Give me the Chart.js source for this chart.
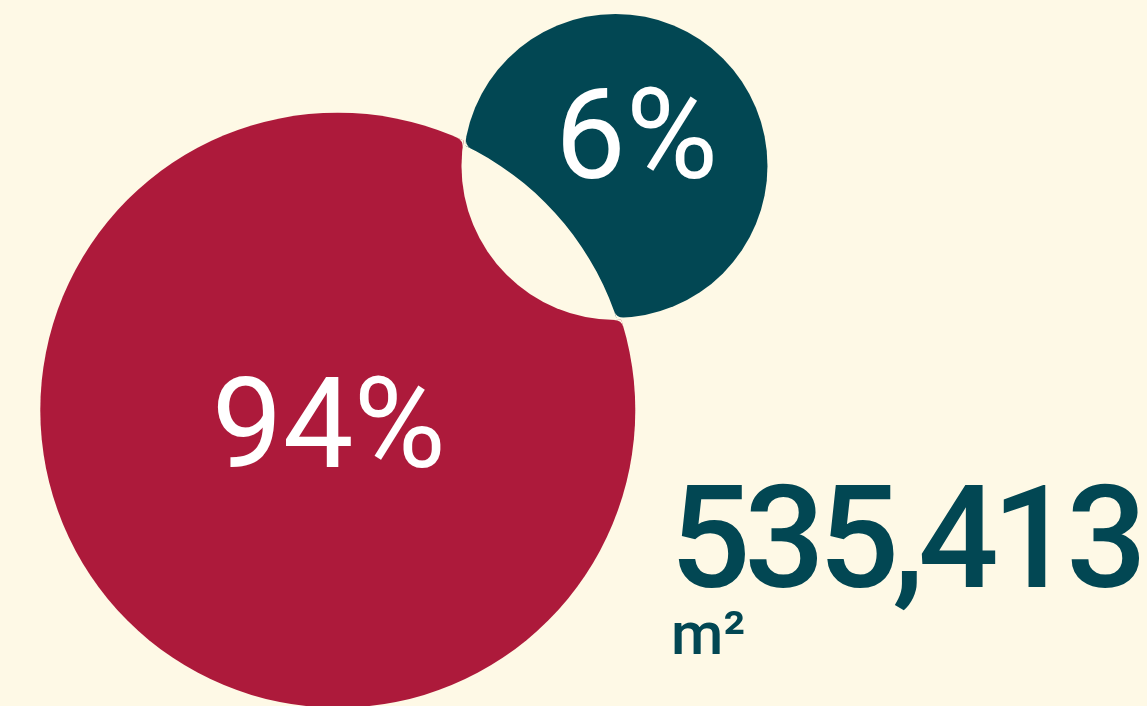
<!doctype html>
<html>

<head>
	<title>Share of floor area</title>
	<script src="https://cdn.jsdelivr.net/npm/chart.js@4/dist/chart.umd.min.js"></script>
	<style>
		html, body {
			margin: 0;
			padding: 0;
			background: #fef9e6;
			overflow: hidden;
		}
		#holder {
			position: relative;
			width: 1147px;
			height: 706px;
		}
		.stat {
			position: absolute;
			color: #024753;
			font-family: Roboto, 'Liberation Sans', sans-serif;
			font-weight: 500;
			line-height: 1;
			white-space: nowrap;
		}
		#total {
			left: 670px;
			top: 468px;
			font-size: 142px;
			letter-spacing: -6.5px;
		}
		#unit {
			left: 671px;
			top: 604px;
			font-size: 60px;
		}
	</style>
</head>

<body>
	<div id="holder">
		<canvas id="chart"></canvas>
		<div class="stat" id="total"></div>
		<div class="stat" id="unit"></div>
	</div>
	<script>
		// values
		var shareLabels = ['94%', '6%'];
		var shareValues = [94, 6];
		var bubbleX = [29.45, 53.66];
		var bubbleY = [41.9, 76.5];
		var bubbleR = [297.5, 152];
		var totalArea = 535413;
		var areaUnit = 'm²';

		var cream = '#fef9e6';
		var colors = ['#ad1a3b', '#024753'];

		document.getElementById('total').textContent = totalArea.toLocaleString('en-US');
		document.getElementById('unit').textContent = areaUnit;

		// intersections of two circles, always in the same side order
		function circleHits(a, ar, b, br) {
			var dx = b.x - a.x, dy = b.y - a.y;
			var d = Math.hypot(dx, dy);
			var k = (ar * ar - br * br + d * d) / (2 * d);
			var h = Math.sqrt(Math.max(ar * ar - k * k, 0));
			var mx = a.x + k * dx / d, my = a.y + k * dy / d;
			return [
				{x: mx - h * dy / d, y: my + h * dx / d},
				{x: mx + h * dy / d, y: my - h * dx / d}
			];
		}

		function arcBetween(ctx, c, r, p, q) {
			var a0 = Math.atan2(p.y - c.y, p.x - c.x);
			var a1 = Math.atan2(q.y - c.y, q.x - c.x);
			var diff = a1 - a0;
			while (diff > Math.PI) diff -= 2 * Math.PI;
			while (diff < -Math.PI) diff += 2 * Math.PI;
			ctx.arc(c.x, c.y, r, a0, a0 + diff, diff < 0);
		}

		// round off the two sharp corners of a shape that is inside circle a and outside circle b
		function softenCorners(ctx, a, ar, b, br, f) {
			var cusps = circleHits(a, ar, b, br);
			var centres = circleHits(a, ar - f, b, br + f);
			ctx.fillStyle = cream;
			for (var i = 0; i < 2; i++) {
				var p = cusps[i], fc = centres[i];
				var ka = Math.hypot(fc.x - a.x, fc.y - a.y);
				var kb = Math.hypot(fc.x - b.x, fc.y - b.y);
				var ta = {x: a.x + (fc.x - a.x) * ar / ka, y: a.y + (fc.y - a.y) * ar / ka};
				var tb = {x: b.x + (fc.x - b.x) * br / kb, y: b.y + (fc.y - b.y) * br / kb};
				ctx.beginPath();
				ctx.moveTo(ta.x, ta.y);
				arcBetween(ctx, a, ar, ta, p);
				arcBetween(ctx, b, br, p, tb);
				arcBetween(ctx, fc, f, tb, ta);
				ctx.closePath();
				ctx.fill();
			}
		}

		function bubbleOf(chart, i) {
			var el = chart.getDatasetMeta(i).data[0];
			return {x: el.x, y: el.y, r: el.options.radius};
		}

		var redGap = 2;     // red is cut a bit wider than the teal circle
		var tealGap = -4;   // teal is cut a bit inside the red circle
		var cornerRadius = 10;

		var cutPlugin = {
			id: 'cutPlugin',
			beforeDatasetDraw: function(chart, args) {
				if (args.index !== 1) return;
				var ctx = chart.ctx;
				var red = bubbleOf(chart, 0);
				ctx.save();
				ctx.beginPath();
				ctx.rect(0, 0, chart.width, chart.height);
				ctx.arc(red.x, red.y, red.r + tealGap, 0, 2 * Math.PI, true);
				ctx.clip('evenodd');
			},
			afterDatasetDraw: function(chart, args) {
				var ctx = chart.ctx;
				if (args.index === 0) {
					// take the teal circle's bite out of the red one
					var t = bubbleOf(chart, 1);
					ctx.save();
					ctx.fillStyle = cream;
					ctx.beginPath();
					ctx.arc(t.x, t.y, t.r + redGap, 0, 2 * Math.PI);
					ctx.fill();
					ctx.restore();
				} else {
					ctx.restore();
				}
			},
			afterDatasetsDraw: function(chart) {
				var ctx = chart.ctx;
				var red = bubbleOf(chart, 0);
				var teal = bubbleOf(chart, 1);
				ctx.save();
				softenCorners(ctx, red, red.r, teal, teal.r + redGap, cornerRadius);
				softenCorners(ctx, teal, teal.r, red, red.r + tealGap, cornerRadius);

				// share labels
				var offsets = [{dx: -9, dy: 57}, {dx: 21, dy: 12}];
				ctx.fillStyle = '#ffffff';
				ctx.font = '400 126px Roboto, "Liberation Sans", sans-serif';
				ctx.textAlign = 'center';
				ctx.textBaseline = 'alphabetic';
				[red, teal].forEach(function(b, i) {
					ctx.fillText(shareLabels[i], b.x + offsets[i].dx, b.y + offsets[i].dy);
				});
				ctx.restore();
			}
		};

		function drawChart() {
			var chartEl = document.getElementById('chart');
			window.myBubbles = new Chart(chartEl, {
				type: 'bubble',
				data: {
					datasets: shareValues.map(function(v, i) {
						return {
							label: shareLabels[i],
							data: [{x: bubbleX[i], y: bubbleY[i], r: bubbleR[i], share: v}],
							backgroundColor: colors[i],
							borderWidth: 0,
							hoverBorderWidth: 0,
							clip: false,
							order: shareValues.length - i   // red first, teal on top
						};
					})
				},
				options: {
					responsive: true,
					maintainAspectRatio: false,
					animation: false,
					events: [],
					layout: {padding: 0, autoPadding: false},
					scales: {
						x: {type: 'linear', display: false, min: 0, max: 100},
						y: {type: 'linear', display: false, min: 0, max: 100}
					},
					plugins: {
						legend: {display: false},
						tooltip: {enabled: false}
					}
				},
				plugins: [cutPlugin]
			});
		}

		Promise.all([
			document.fonts.load('400 126px Roboto'),
			document.fonts.load('500 142px Roboto')
		]).then(drawChart, drawChart);
	</script>
</body>

</html>
